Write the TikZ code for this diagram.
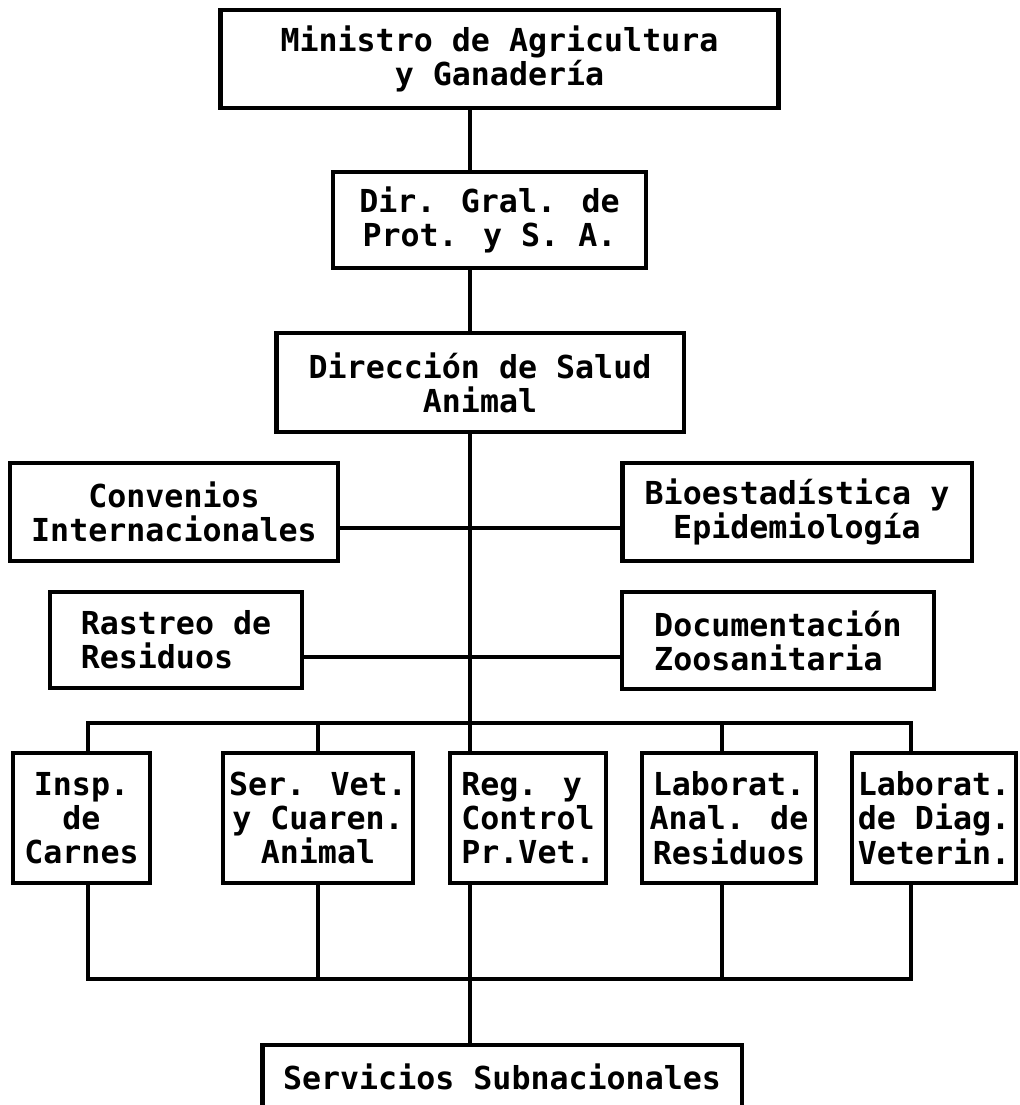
\documentclass[tikz,border=0pt]{standalone}
\usepackage{fontspec}
\usepackage{tikz}
\newfontfamily\chartfont{DejaVu Sans Mono}

\begin{document}
\begin{tikzpicture}[x=0.02cm, y=-0.02cm,
  unit/.style={draw, line width=2.8pt, font=\chartfont\bfseries\fontsize{18}{19.5}\selectfont, align=center, inner sep=0pt},
  link/.style={line width=2.8pt}]
  \useasboundingbox (0,0) rectangle (1019,1105);
  \clip (0,0) rectangle (1019,1105);

  % trunk
  \node[unit, minimum width=11.18cm, minimum height=1.96cm] (min) at (499.5,59) {Ministro de Agricultura\\y Ganadería};
  \node[unit, minimum width=6.26cm, minimum height=1.92cm] (dgp) at (489.5,220) {Dir. Gral. de\\Prot. y S. A.};
  \node[unit, minimum width=8.16cm, minimum height=1.98cm] (dsa) at (480,382.5) {Dirección de Salud\\Animal};

  % staff units
  \node[unit, minimum width=6.56cm, minimum height=1.96cm] (conv) at (174,512) {Convenios\\Internacionales};
  \node[unit, minimum width=7cm, minimum height=1.96cm] (bio) at (797,512) {Bioestadística y\\Epidemiología};
  \node[unit, minimum width=5.04cm, minimum height=1.92cm, align=left] (ras) at (176,640) {Rastreo de\\Residuos};
  \node[unit, minimum width=6.24cm, minimum height=1.94cm, align=left] (doc) at (778,640.5) {Documentación\\Zoosanitaria};

  % line units
  \node[unit, minimum width=2.74cm, minimum height=2.6cm] (insp) at (81.5,818) {Insp.\\de\\Carnes};
  \node[unit, minimum width=3.8cm, minimum height=2.6cm] (svc) at (318,818) {Ser. Vet.\\y Cuaren.\\Animal};
  \node[unit, minimum width=3.12cm, minimum height=2.6cm, align=left] (reg) at (528,818) {Reg. y\\Control\\Pr.Vet.};
  \node[unit, minimum width=3.48cm, minimum height=2.6cm] (lan) at (729,818) {Laborat.\\Anal. de\\Residuos};
  \node[unit, minimum width=3.28cm, minimum height=2.6cm] (ldv) at (934,818) {Laborat.\\de Diag.\\Veterin.};

  \node[unit, minimum width=9.6cm, minimum height=1.28cm] (sub) at (502,1077) {Servicios Subnacionales};

  % bus taps
  \foreach \k/\px in {1/88, 2/318, 3/470, 4/722, 5/911} {
    \coordinate (t\k) at (\px,723);
    \coordinate (b\k) at (\px,979);
  }

  \draw[link] (min.south -| t3) -- (dgp.north -| t3);
  \draw[link] (dgp.south -| t3) -- (dsa.north -| t3);
  \draw[link] (dsa.south -| t3) -- (reg.north -| t3);
  \draw[link] (reg.south -| t3) -- (sub.north -| t3);

  \draw[link] ([yshift=-0.32cm]conv.east) -- ([yshift=-0.32cm]conv.east -| bio.west);
  \draw[link] ([yshift=-0.34cm]ras.east) -- ([yshift=-0.34cm]ras.east -| doc.west);

  \draw[link] (insp.north -| t1) -- (t1) -- (t5) -- (ldv.north -| t5);
  \draw[link] (insp.south -| b1) -- (b1) -- (b5) -- (ldv.south -| b5);
  \foreach \k/\u in {2/svc, 4/lan} {
    \draw[link] (t\k) -- (t\k |- \u.north) (\u.south -| b\k) -- (b\k);
  }
\end{tikzpicture}
\end{document}
